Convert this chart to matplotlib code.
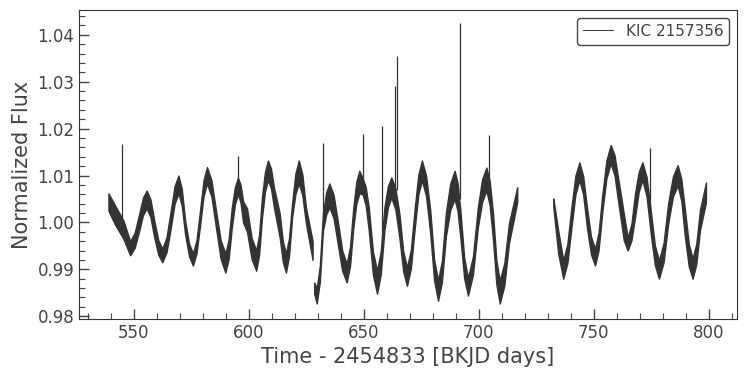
import numpy as np
import matplotlib
matplotlib.use("Agg")
import matplotlib.pyplot as plt

# ---- data (time in BKJD, normalized flux band lo/hi) ----
time_a = [539.1, 542.0, 545.6, 548.5, 550.5, 552.5, 554.1, 555.7, 557.35, 559.0,
          560.75, 562.5, 564.35, 566.2, 567.85, 569.5, 570.95, 572.4, 574.1, 575.8,
          577.35, 578.9, 580.4, 581.9, 583.85, 585.8, 587.85, 589.9, 591.3, 592.7,
          594.05, 595.4, 596.5, 597.6, 599.3, 601.3, 603.3, 604.55, 605.8, 607.1,
          608.4, 609.7, 611.0, 613.5, 614.85, 616.2, 617.55, 618.9, 620.35, 621.8,
          623.35, 624.9, 627.8]
lo_a = [1.0025, 0.9995, 0.9965, 0.9930, 0.9946, 0.9983, 1.0016, 1.0030, 1.0011, 0.9968,
        0.9931, 0.9915, 0.9937, 0.9989, 1.0040, 1.0062, 1.0036, 0.9975, 0.9928, 0.9908,
        0.9934, 0.9994, 1.0056, 1.0083, 1.0055, 0.9989, 0.9922, 0.9893, 0.9922, 0.9989,
        1.0039, 1.0060, 1.0042, 1.0000, 0.9980, 0.9922, 0.9897, 0.9931, 1.0010, 1.0066,
        1.0090, 1.0073, 1.0032, 0.9968, 0.9916, 0.9893, 0.9928, 1.0011, 1.0061, 1.0083,
        1.0058, 0.9998, 0.9920]
hi_a = [1.0062, 1.0036, 1.0004, 0.9960, 0.9978, 1.0019, 1.0053, 1.0068, 1.0049, 1.0004,
        0.9962, 0.9944, 0.9969, 1.0026, 1.0078, 1.0100, 1.0072, 1.0005, 0.9955, 0.9934,
        0.9962, 1.0026, 1.0090, 1.0118, 1.0090, 1.0026, 0.9962, 0.9934, 0.9963, 1.0032,
        1.0076, 1.0095, 1.0080, 1.0045, 1.0030, 0.9967, 0.9940, 0.9974, 1.0053, 1.0108,
        1.0132, 1.0115, 1.0075, 1.0019, 0.9960, 0.9934, 0.9966, 1.0041, 1.0105, 1.0132,
        1.0102, 1.0032, 0.9960]

time_b = [628.5, 629.6, 630.95, 632.3, 633.7, 635.1, 636.9, 638.7, 640.65, 642.6,
          644.05, 645.5, 646.8, 648.1, 649.5, 650.85, 652.2, 654.0, 655.8, 657.4,
          659.0, 660.5, 662.0, 663.75, 665.5, 667.15, 668.8, 670.5, 672.2, 673.75,
          675.3, 677.1, 678.9, 680.6, 682.3, 684.0, 685.7, 687.6, 689.5, 690.75,
          692.0, 693.65, 695.3, 697.45, 699.6, 701.45, 703.3, 704.75, 706.2, 707.65,
          709.1, 711.1, 713.1, 716.7]
lo_b = [0.9848, 0.9827, 0.9874, 0.9983, 1.0017, 1.0032, 1.0009, 0.9955, 0.9897, 0.9872,
        0.9907, 0.9989, 1.0040, 1.0062, 1.0060, 1.0037, 0.9983, 0.9889, 0.9848, 0.9889,
        0.9983, 1.0032, 1.0053, 1.0028, 0.9968, 0.9896, 0.9865, 0.9902, 0.9989, 1.0060,
        1.0090, 1.0056, 0.9977, 0.9876, 0.9833, 0.9874, 0.9970, 1.0026, 1.0050, 1.0025,
        0.9968, 0.9881, 0.9844, 0.9888, 0.9989, 1.0044, 1.0068, 1.0036, 0.9962, 0.9868,
        0.9827, 0.9865, 0.9955, 1.0043]
hi_b = [0.9872, 0.9860, 0.9908, 1.0019, 1.0064, 1.0083, 1.0059, 1.0004, 0.9940, 0.9912,
        0.9948, 1.0032, 1.0087, 1.0110, 1.0095, 1.0076, 1.0032, 0.9938, 0.9897, 0.9938,
        1.0032, 1.0077, 1.0096, 1.0073, 1.0019, 0.9939, 0.9904, 0.9942, 1.0032, 1.0102,
        1.0132, 1.0100, 1.0026, 0.9921, 0.9876, 0.9919, 1.0020, 1.0083, 1.0110, 1.0085,
        1.0026, 0.9925, 0.9882, 0.9927, 1.0032, 1.0092, 1.0117, 1.0088, 1.0019, 0.9919,
        0.9876, 0.9913, 0.9998, 1.0075]

time_c = [732.4, 734.5, 736.7, 738.5, 740.3, 742.0, 743.7, 745.35, 747.0, 748.75,
          750.5, 752.05, 753.6, 755.45, 757.3, 759.0, 760.7, 763.0, 764.7, 766.3,
          767.9, 769.5, 771.1, 772.9, 774.7, 776.5, 778.3, 780.3, 782.3, 784.35,
          786.4, 788.0, 789.6, 791.25, 792.9, 794.5, 796.1, 798.7]
lo_c = [1.0032, 0.9934, 0.9880, 0.9913, 0.9991, 1.0060, 1.0090, 1.0060, 0.9989, 0.9932,
        0.9908, 0.9941, 1.0019, 1.0094, 1.0126, 1.0100, 1.0040, 0.9962, 0.9940, 0.9961,
        1.0011, 1.0066, 1.0090, 1.0056, 0.9977, 0.9909, 0.9880, 0.9915, 0.9998, 1.0055,
        1.0079, 1.0046, 0.9968, 0.9906, 0.9880, 0.9911, 0.9983, 1.0043]
hi_c = [1.0051, 0.9983, 0.9919, 0.9954, 1.0034, 1.0100, 1.0128, 1.0099, 1.0032, 0.9970,
        0.9944, 0.9978, 1.0056, 1.0132, 1.0165, 1.0143, 1.0090, 1.0019, 0.9968, 0.9996,
        1.0062, 1.0108, 1.0128, 1.0097, 1.0026, 0.9951, 0.9919, 0.9956, 1.0041, 1.0098,
        1.0122, 1.0093, 1.0026, 0.9954, 0.9923, 0.9954, 1.0026, 1.0085]

# flare-like spikes: time, flux at base of spike, peak flux
spike_time = [545.1, 595.5, 632.3, 649.6, 658.1, 663.7, 664.6, 691.7, 704.6, 774.2]
spike_base = [0.9990, 1.0090, 1.0000, 1.0090, 0.9950, 1.0070, 1.0070, 1.0050, 1.0080, 1.0000]
spike_peak = [1.0167, 1.0141, 1.0169, 1.0188, 1.0206, 1.0290, 1.0355, 1.0425, 1.0186, 1.0159]

label = "KIC 2157356"
xlabel = "Time - 2454833 [BKJD days]"
ylabel = "Normalized Flux"

# ---- style ----
txt = "#444444"
plt.rcParams.update({
    "font.family": "DejaVu Sans",
    "text.color": txt,
    "axes.labelcolor": txt,
    "xtick.color": txt,
    "ytick.color": txt,
    "axes.edgecolor": "#333333",
})

fig = plt.figure(figsize=(7.46, 3.76), dpi=100)
ax = fig.add_axes([79 / 746, 57 / 376, 658 / 746, 309 / 376])

col = "#333333"
for t, lo, hi in ((time_a, lo_a, hi_a), (time_b, lo_b, hi_b), (time_c, lo_c, hi_c)):
    ax.fill_between(t, lo, hi, color=col, lw=1.0, edgecolor=col)
ax.vlines(spike_time, spike_base, spike_peak, color=col, lw=0.9)
ax.plot([], [], color=col, lw=0.7, label=label)

ax.set_xlim(526.3, 812.2)
ax.set_ylim(0.9794, 1.0453)
ax.set_xticks([550, 600, 650, 700, 750, 800])
ax.set_yticks([0.98, 0.99, 1.00, 1.01, 1.02, 1.03, 1.04])
ax.set_yticklabels(["0.98", "0.99", "1.00", "1.01", "1.02", "1.03", "1.04"])
ax.xaxis.set_minor_locator(matplotlib.ticker.MultipleLocator(10))
ax.yaxis.set_minor_locator(matplotlib.ticker.MultipleLocator(0.002))
ax.tick_params(which="both", direction="in", top=False, right=False, labelsize=12)
ax.tick_params(which="major", length=7, width=1)
ax.tick_params(which="minor", length=4, width=0.8)
ax.set_xlabel(xlabel, fontsize=15)
ax.set_ylabel(ylabel, fontsize=15)
leg = ax.legend(loc="upper right", fontsize=11, frameon=True, fancybox=True,
                edgecolor="#444444", framealpha=1)
leg.get_frame().set_linewidth(1.0)

fig.savefig("out.png", dpi=100)
